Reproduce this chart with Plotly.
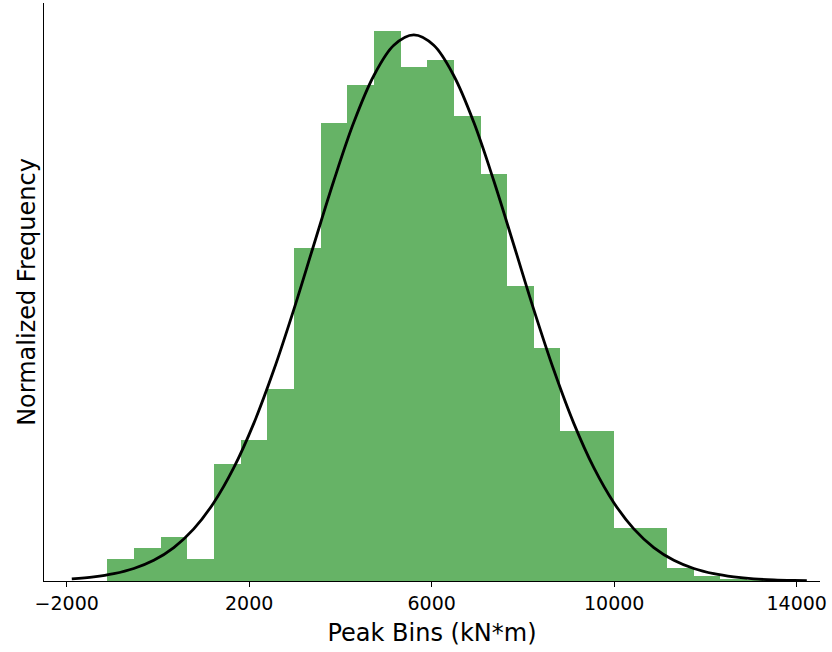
import plotly.graph_objects as go

# Histogram bins (bin centres in kN*m), fixed bin width
bin_centers = [-814, -230, 354, 938, 1522, 2106, 2690, 3274, 3858, 4442,
               5026, 5610, 6194, 6778, 7362, 7946, 8530, 9114, 9698, 10282,
               10866, 11450, 12034, 12618, 13202]
bin_width = 584
bin_density = [7.23e-6, 1.084e-5, 1.446e-5, 7.23e-6, 3.845e-5, 4.633e-5, 6.309e-5,
               1.0942e-4, 1.505e-4, 1.630e-4, 1.807e-4, 1.689e-4, 1.712e-4,
               1.528e-4, 1.337e-4, 9.69e-5, 7.66e-5, 4.93e-5, 4.93e-5,
               1.74e-5, 1.74e-5, 4.27e-6, 1.6e-6, 6.6e-7, 3.3e-7]

# Fitted curve, points
curve_x = [-1888, -1406, -967, -529, -91, 348, 786, 1224, 1663, 2101, 2539, 2978,
           3416, 3855, 4293, 4731, 5170, 5608, 6046, 6485, 6923, 7361, 7800, 8238,
           8677, 9115, 9553, 9992, 10430, 10868, 11307, 11745, 12183, 12622,
           13060, 13498, 13937, 14222]
curve_y = [0.068e-5, 0.135e-5, 0.240e-5, 0.410e-5, 0.680e-5, 1.098e-5, 1.712e-5,
           2.573e-5, 3.723e-5, 5.179e-5, 6.930e-5, 8.918e-5, 11.04e-5, 13.15e-5,
           15.07e-5, 16.60e-5, 17.60e-5, 17.94e-5, 17.60e-5, 16.60e-5, 15.07e-5,
           13.15e-5, 11.04e-5, 8.918e-5, 6.930e-5, 5.179e-5, 3.723e-5, 2.573e-5,
           1.712e-5, 1.098e-5, 0.680e-5, 0.410e-5, 0.240e-5, 0.135e-5, 0.070e-5,
           0.036e-5, 0.018e-5, 0.011e-5]

x_ticks = [-2000, 2000, 6000, 10000, 14000]

fig = go.Figure()
fig.add_trace(go.Bar(
    x=bin_centers, y=bin_density, width=[bin_width] * len(bin_centers),
    marker=dict(color="rgba(0,128,0,0.6)", line=dict(width=0)),
    showlegend=False, hoverinfo="skip"))
fig.add_trace(go.Scatter(
    x=curve_x, y=curve_y, mode="lines", line=dict(color="black", width=2.8, shape="spline"),
    showlegend=False, hoverinfo="skip"))

font_family = "DejaVu Sans"
fig.update_layout(
    width=832, height=652,
    margin=dict(l=44, r=12, t=3, b=71),
    paper_bgcolor="white", plot_bgcolor="white",
    bargap=0,
    font=dict(family=font_family, color="black"),
    xaxis=dict(
        range=[-2497, 14511], tickvals=x_ticks, tickformat="d",
        ticks="outside", ticklen=5, tickwidth=1, tickcolor="black",
        showline=True, linecolor="black", linewidth=1.2, mirror=False,
        showgrid=False, zeroline=False,
        tickfont=dict(size=19, family=font_family, color="black"),
        title=dict(text="Peak Bins (kN*m)", font=dict(size=24, family=font_family, color="black"),
                   standoff=11),
    ),
    yaxis=dict(
        range=[0, 1.899e-4], showticklabels=False, ticks="",
        showline=True, linecolor="black", linewidth=1.2,
        showgrid=False, zeroline=False,
        title=dict(text="Normalized Frequency", font=dict(size=24, family=font_family, color="black"),
                   standoff=0),
    ),
)

fig.write_html("out.html")
